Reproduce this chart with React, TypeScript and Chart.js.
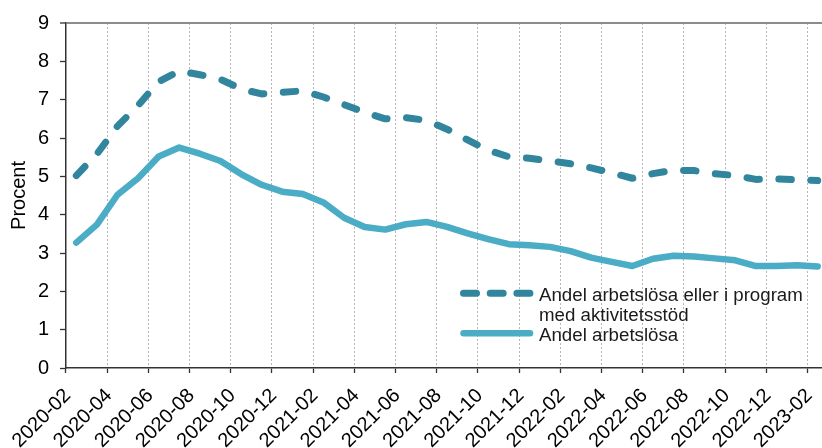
import { useEffect, useRef } from 'react';
import { Chart, registerables } from 'chart.js';

Chart.register(...registerables);

const FONT = '"Liberation Sans", Arial, Helvetica, sans-serif';
const AXIS_FONT_SIZE = 20;
const LEGEND_FONT_SIZE = 18.7;

const CATEGORIES = [
  '2020-02', '2020-03', '2020-04', '2020-05', '2020-06', '2020-07', '2020-08', '2020-09',
  '2020-10', '2020-11', '2020-12', '2021-01', '2021-02', '2021-03', '2021-04', '2021-05',
  '2021-06', '2021-07', '2021-08', '2021-09', '2021-10', '2021-11', '2021-12', '2022-01',
  '2022-02', '2022-03', '2022-04', '2022-05', '2022-06', '2022-07', '2022-08', '2022-09',
  '2022-10', '2022-11', '2022-12', '2023-01', '2023-02',
];

// Andel arbetslösa eller i program med aktivitetsstöd (dashed)
const PROGRAM_SERIES = [
  5.02, 5.58, 6.31, 6.85, 7.47, 7.75, 7.65, 7.53, 7.28, 7.15, 7.19, 7.23,
  7.07, 6.87, 6.67, 6.5, 6.53, 6.46, 6.23, 5.95, 5.68, 5.51, 5.47, 5.4,
  5.33, 5.22, 5.09, 4.95, 5.07, 5.16, 5.15, 5.07, 5.02, 4.92, 4.93, 4.91, 4.89,
];

// Andel arbetslösa (solid)
const UNEMPLOYED_SERIES = [
  3.27, 3.74, 4.52, 4.95, 5.52, 5.75, 5.59, 5.4, 5.06, 4.78, 4.6, 4.54,
  4.32, 3.92, 3.68, 3.61, 3.75, 3.81, 3.68, 3.51, 3.36, 3.23, 3.2, 3.16,
  3.05, 2.88, 2.77, 2.66, 2.85, 2.93, 2.91, 2.86, 2.81, 2.66, 2.66, 2.68, 2.65,
];

const SERIES_LABELS = ['Andel arbetslösa eller i program med aktivitetsstöd', 'Andel arbetslösa'];
const LEGEND_LINES = [['Andel arbetslösa eller i program', 'med aktivitetsstöd'], ['Andel arbetslösa']];
const Y_TITLE = 'Procent';
const Y_MIN = 0;
const Y_MAX = 9;

const DASHED_COLOR = '#31859C';
const SOLID_COLOR = '#4BACC6';

const legendPlugin = {
  id: 'customLegend',
  afterDraw(chart: any) {
    const ctx = chart.ctx as CanvasRenderingContext2D;
    ctx.save();
    ctx.lineCap = 'round';
    ctx.strokeStyle = DASHED_COLOR;
    ctx.lineWidth = 7;
    ctx.setLineDash([13, 13.7]);
    ctx.beginPath();
    ctx.moveTo(463.5, 293.3);
    ctx.lineTo(530.5, 293.3);
    ctx.stroke();
    ctx.setLineDash([]);
    ctx.strokeStyle = SOLID_COLOR;
    ctx.lineWidth = 6.5;
    ctx.beginPath();
    ctx.moveTo(463.5, 333.3);
    ctx.lineTo(530, 333.3);
    ctx.stroke();
    ctx.fillStyle = '#1a1a1a';
    ctx.font = `${LEGEND_FONT_SIZE}px ${FONT}`;
    ctx.textBaseline = 'alphabetic';
    ctx.textAlign = 'left';
    ctx.fillText(LEGEND_LINES[0][0], 539, 300.5);
    ctx.fillText(LEGEND_LINES[0][1], 539, 320.5);
    ctx.fillText(LEGEND_LINES[1][0], 539, 340.5);
    ctx.restore();
  },
};

export default function App() {
  const canvasRef = useRef<HTMLCanvasElement | null>(null);

  useEffect(() => {
    if (!canvasRef.current) return;
    const chart = new Chart(canvasRef.current, {
      type: 'line',
      data: {
        labels: CATEGORIES,
        datasets: [
          {
            label: SERIES_LABELS[0],
            data: PROGRAM_SERIES,
            borderColor: DASHED_COLOR,
            backgroundColor: DASHED_COLOR,
            borderWidth: 7,
            borderDash: [12.5, 19.5],
            borderCapStyle: 'round',
            borderJoinStyle: 'round',
            pointRadius: 0,
            tension: 0,
            fill: false,
          },
          {
            label: SERIES_LABELS[1],
            data: UNEMPLOYED_SERIES,
            borderColor: SOLID_COLOR,
            backgroundColor: SOLID_COLOR,
            borderWidth: 6.5,
            borderCapStyle: 'round',
            borderJoinStyle: 'round',
            pointRadius: 0,
            tension: 0,
            fill: false,
          },
        ],
      },
      options: {
        responsive: false,
        animation: false,
        devicePixelRatio: 1,
        layout: { padding: { left: 0, right: 2, top: 20, bottom: 0 } },
        plugins: {
          legend: { display: false },
          tooltip: { enabled: false },
        },
        scales: {
          x: {
            type: 'category',
            offset: true,
            afterFit: (scale: any) => {
              scale.height = 80;
              scale.paddingLeft = 0;
              scale.paddingRight = 0;
            },
            grid: {
              offset: true,
              drawOnChartArea: true,
              color: (c: any) => (c.index % 2 === 0 ? '#b4b4b4' : 'rgba(0,0,0,0)'),
              lineWidth: 1,
              tickLength: 5,
              tickColor: (c: any) => (c.index % 2 === 0 ? '#333333' : 'rgba(0,0,0,0)'),
              tickWidth: 1.3,
              tickBorderDash: [],
            } as any,
            border: { display: true, color: '#333333', width: 1.5, dash: [2, 2] },
            ticks: {
              autoSkip: false,
              minRotation: 45,
              maxRotation: 45,
              padding: 11,
              labelOffset: -8.5,
              color: '#000000',
              font: { family: FONT, size: AXIS_FONT_SIZE },
              callback: (_v: any, i: number) => (i % 2 === 0 ? CATEGORIES[i] : ''),
            },
          },
          y: {
            min: Y_MIN,
            max: Y_MAX,
            afterFit: (scale: any) => {
              scale.width = 66;
            },
            grid: {
              drawOnChartArea: true,
              color: (c: any) => (c.tick && c.tick.value === Y_MAX ? '#8c8c8c' : 'rgba(0,0,0,0)'),
              lineWidth: (c: any) => (c.tick && c.tick.value === Y_MAX ? 2 : 1),
              tickLength: 6,
              tickColor: '#333333',
              tickWidth: 1.3,
            } as any,
            border: { display: true, color: '#333333', width: 1.5 },
            ticks: {
              stepSize: 1,
              padding: 11,
              color: '#000000',
              font: { family: FONT, size: AXIS_FONT_SIZE },
            },
            title: {
              display: true,
              text: Y_TITLE,
              color: '#000000',
              font: { family: FONT, size: AXIS_FONT_SIZE },
              padding: { top: 7, bottom: 0 },
            },
          },
        },
      },
      plugins: [legendPlugin],
    });
    return () => chart.destroy();
  }, []);

  return (
    <div
      style={{
        position: 'fixed',
        left: 0,
        top: 0,
        width: 822,
        height: 448,
        overflow: 'hidden',
        background: '#ffffff',
      }}
    >
      <canvas ref={canvasRef} width={830} height={448} style={{ display: 'block', width: 830, height: 448 }} />
    </div>
  );
}
